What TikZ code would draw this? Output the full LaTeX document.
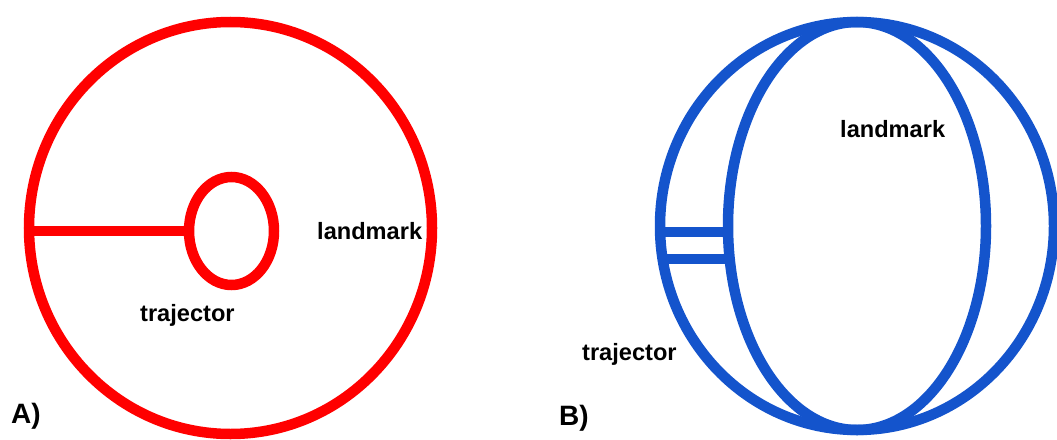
\documentclass[tikz,border=0pt]{standalone}
\usepackage{fontspec}
\setmainfont{Liberation Sans}
\usetikzlibrary{shapes.geometric}
\definecolor{redc}{RGB}{255,0,0}
\definecolor{bluec}{RGB}{20,84,204}
\tikzset{
  rring/.style={ellipse, draw=redc, line width=10.5pt, inner sep=0pt, outer sep=0pt},
  bring/.style={ellipse, draw=bluec, line width=10.5pt, inner sep=0pt, outer sep=0pt},
  rbar/.style={draw=redc, line width=9.5pt},
  bbar/.style={draw=bluec, line width=9.5pt},
  lbl/.style={font=\bfseries\fontsize{23.6}{28}\selectfont, inner sep=0pt, anchor=base west, text=black},
  big/.style={font=\bfseries\fontsize{28}{32}\selectfont, inner sep=0pt, anchor=base west, text=black}
}
\begin{document}
\begin{tikzpicture}[x=1pt,y=-1pt]
\useasboundingbox (0,0) rectangle (1057,439);
% A
\node[rring, minimum width=403pt, minimum height=412pt] (ra) at (230.5,228) {};
\node[rring, minimum width=85pt, minimum height=108pt] (rb) at (231.5,231) {};
\draw[rbar] (ra.west |- rb.west) -- (rb.west);
\node[lbl] (rl) at (317,239) {landmark};
\node[lbl] (rt) at (140,321) {trajector};
\node[big] (la) at (11,423) {A)};
% B
\node[bring, minimum width=394pt, minimum height=408pt] (ba) at (857,226) {};
\node[bring, minimum width=258pt, minimum height=408pt] (bb) at (857,226) {};
\coordinate (b1l) at (662,232);
\coordinate (b1r) at (730,232);
\coordinate (b2l) at (663,259);
\coordinate (b2r) at (730,259);
\draw[bbar] (b1l) -- (b1r);
\draw[bbar] (b2l) -- (b2r);
\node[lbl] (bl) at (840,137) {landmark};
\node[lbl] (bt) at (582,360) {trajector};
\node[big] (lb) at (559,425) {B)};
\end{tikzpicture}
\end{document}
